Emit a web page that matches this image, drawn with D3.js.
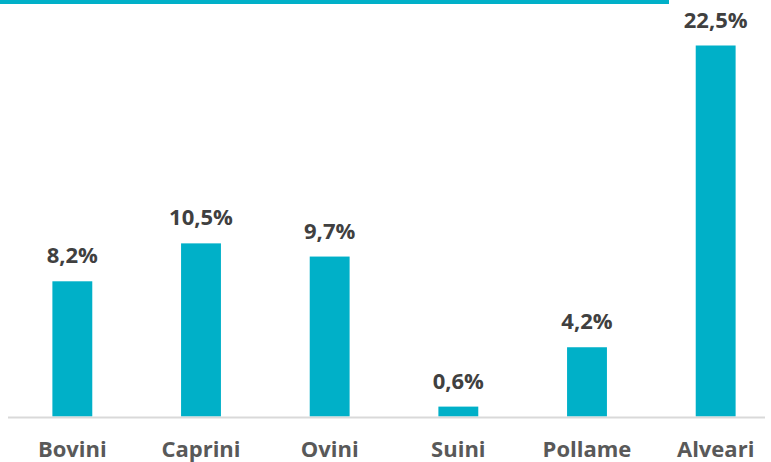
<!DOCTYPE html>
<html><head><meta charset="utf-8">
<script src="https://cdn.jsdelivr.net/npm/d3@7"></script>
<style>html,body{margin:0;padding:0;background:#fff;}</style>
</head><body>
<svg id="chart" width="771" height="462"></svg>
<script>
const categories = ["Bovini","Caprini","Ovini","Suini","Pollame","Alveari"];
const values = [8.2,10.5,9.7,0.6,4.2,22.5];
const valueLabels = ["8,2%","10,5%","9,7%","0,6%","4,2%","22,5%"];

const svg = d3.select("#chart");
const color = "#00B0C8";
const baseY = 416.5;
const x = d3.scaleBand().domain(categories).range([8, 780]).paddingInner(0.69).paddingOuter(0.345);
const y = d3.scaleLinear().domain([0, 22.5]).range([baseY, 45.5]);

svg.append("rect").attr("x",0).attr("y",0).attr("width",669).attr("height",4).attr("fill",color);

svg.selectAll("rect.bar").data(values).join("rect").attr("class","bar")
  .attr("x",(d,i)=>x(categories[i]))
  .attr("width",x.bandwidth())
  .attr("y",d=>y(d))
  .attr("height",d=>baseY-y(d))
  .attr("fill",color);

svg.append("line").attr("x1",8).attr("x2",765).attr("y1",baseY+1).attr("y2",baseY+1)
  .attr("stroke","#d9d9d9").attr("stroke-width",2);

svg.selectAll("text.val").data(values).join("text").attr("class","val")
  .attr("x",(d,i)=>x(categories[i])+x.bandwidth()/2)
  .attr("y",d=>y(d)-18)
  .attr("text-anchor","middle")
  .attr("font-family","'Open Sans', sans-serif").attr("font-weight","bold").attr("font-size",22)
  .attr("fill","#404040")
  .text((d,i)=>valueLabels[i]);

svg.selectAll("text.cat").data(categories).join("text").attr("class","cat")
  .attr("x",d=>x(d)+x.bandwidth()/2)
  .attr("y",457)
  .attr("text-anchor","middle")
  .attr("font-family","'Open Sans', sans-serif").attr("font-weight","bold").attr("font-size",22)
  .attr("fill","#595959")
  .text(d=>d);
</script>
</body></html>
